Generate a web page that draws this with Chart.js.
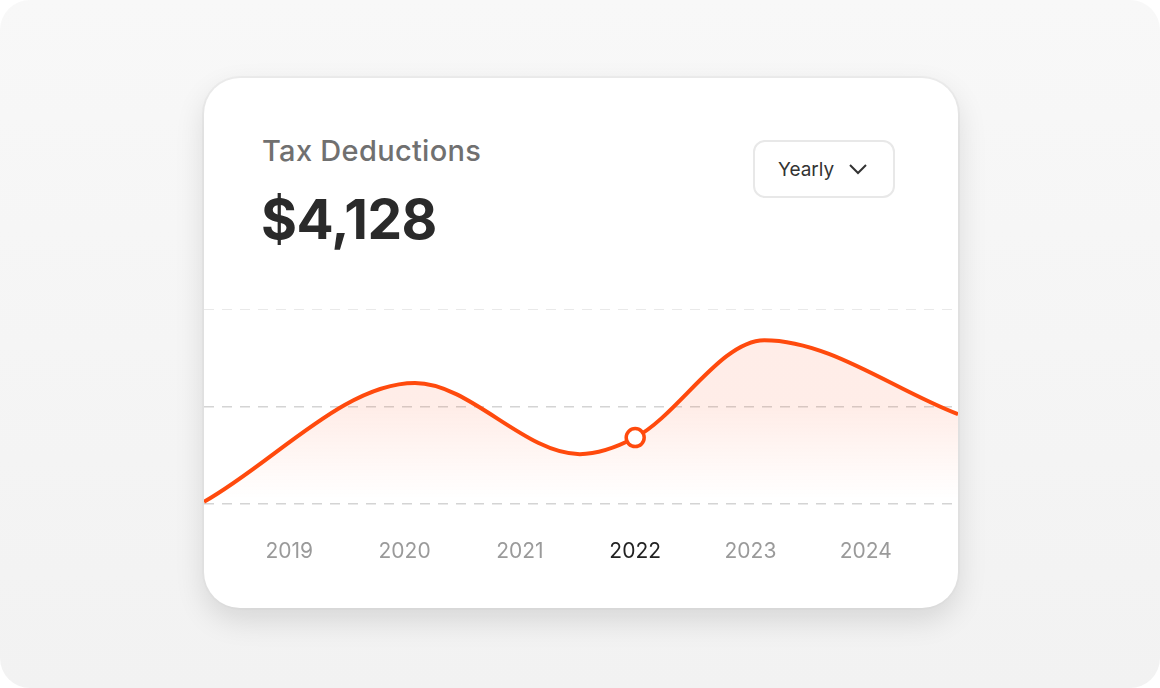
<!DOCTYPE html>
<html lang="en">
<head>
<meta charset="UTF-8">
<title>Tax Deductions</title>
<style>
    body { margin: 0; width: 1160px; height: 688px; background: #fff; font-family: Inter, "Noto Sans", sans-serif; }
    .page { position: absolute; left: 0; top: 0; width: 1160px; height: 688px; border-radius: 30px; background: linear-gradient(#f8f8f8, #f2f2f2); }
    .card { position: absolute; left: 204px; top: 78px; width: 754px; height: 530px; background: #fff; border-radius: 36px;
            box-shadow: 0 12px 30px rgba(0,0,0,0.12), 0 0 0 2px #efefef; overflow: hidden; }
    .title { position: absolute; left: 58px; top: 55px; font-size: 29px; font-weight: 500; color: #707070; letter-spacing: 0.3px; }
    .total { position: absolute; left: 57px; top: 108px; font-size: 55px; font-weight: 700; color: #2a2a2a; letter-spacing: -0.5px; }
    .dropdown { position: absolute; left: 549px; top: 62px; width: 142px; height: 58px; border: 2px solid #e8e8e8; border-radius: 12px;
                box-sizing: border-box; font-size: 19px; color: #333; display: flex; align-items: center; padding-left: 23px; }
    .dropdown svg { margin-left: 14px; }
    #wrap { position: absolute; left: 0; top: 231px; width: 754px; height: 290px; }
</style>
<script src="https://cdn.jsdelivr.net/npm/chart.js"></script>
</head>
<body>
<div class="page"></div>
<div class="card">
    <div class="title">Tax Deductions</div>
    <div class="total">$4,128</div>
    <div class="dropdown">Yearly
        <svg width="20" height="12" viewBox="0 0 20 12"><path d="M2 2 L10 10 L18 2" fill="none" stroke="#333" stroke-width="2"/></svg>
    </div>
    <div id="wrap"><canvas id="chart"></canvas></div>
</div>
<script>
    // curve shape points (x in years, y in value units)
    const xs = [2018.26, 2020.09, 2021.52, 2022, 2023.12, 2024.8];
    const ys = [2, 124, 51, 68, 168, 92];
    const years = [2019, 2020, 2021, 2022, 2023, 2024];
    const activeYear = 2022;

    const ctx = document.getElementById('chart').getContext('2d');
    const grad = ctx.createLinearGradient(0, 100, 0, 190);
    grad.addColorStop(0, 'rgba(255,80,30,0.10)');
    grad.addColorStop(1, 'rgba(255,80,30,0)');

    new Chart(ctx, {
        type: 'line',
        data: {
            datasets: [{
                data: xs.map((x, i) => ({ x: x, y: ys[i] })),
                borderColor: '#ff4a0d',
                borderWidth: 4,
                cubicInterpolationMode: 'monotone',
                fill: 'origin',
                backgroundColor: grad,
                clip: false,
                pointRadius: xs.map(x => x === activeYear ? 9 : 0),
                pointBorderWidth: 3.5,
                pointBackgroundColor: '#fff',
                pointBorderColor: '#ff4a0d'
            }]
        },
        options: {
            responsive: true,
            maintainAspectRatio: false,
            animation: false,
            layout: { padding: 0 },
            plugins: { legend: { display: false }, tooltip: { enabled: false } },
            scales: {
                x: {
                    type: 'linear',
                    min: 2018.26, max: 2024.8,
                    afterBuildTicks: s => { s.ticks = years.map(v => ({ value: v })); },
                    grid: { display: false, drawTicks: false },
                    border: { display: false },
                    ticks: {
                        padding: 35,
                        maxRotation: 0,
                        autoSkip: false,
                        font: { family: 'Inter', size: 21 },
                        color: c => c.tick && c.tick.value === activeYear ? '#222' : '#9a9a9a',
                        callback: v => String(v)
                    }
                },
                y: {
                    min: 0, max: 200,
                    afterBuildTicks: s => { s.ticks = [0, 100, 200].map(v => ({ value: v })); },
                    ticks: { display: false },
                    grid: { color: '#d4d4d4', lineWidth: 1.5, drawTicks: false },
                    border: { display: false, dash: [10, 8] }
                }
            }
        }
    });
</script>
</body>
</html>
